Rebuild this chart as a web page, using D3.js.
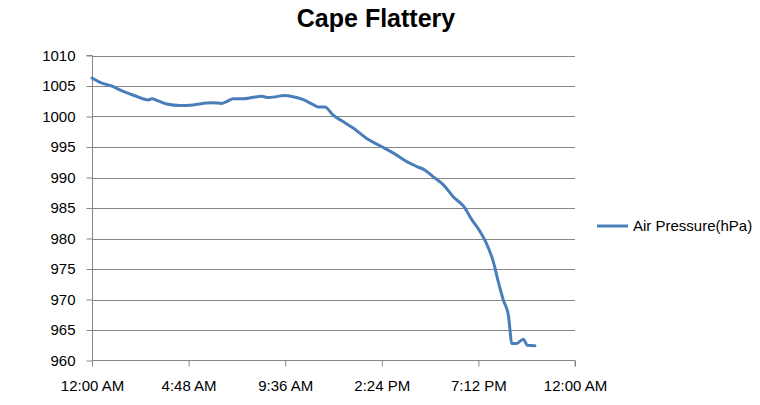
<!DOCTYPE html>
<html>
<head>
<meta charset="utf-8">
<script src="https://cdn.jsdelivr.net/npm/d3@7"></script>
<style>
  html, body { margin: 0; padding: 0; background: #fff; }
  svg { display: block; }
  text { font-family: "Liberation Sans", Arial, sans-serif; fill: #000; }
</style>
</head>
<body>
<svg id="chart" width="760" height="405"></svg>
<script>
const chartTitle = "Cape Flattery";
const seriesName = "Air Pressure(hPa)";
// time of reading, hours since 12:00 AM
const hours = [0, 0.4, 0.98, 1.55, 2.14, 2.8, 2.97, 3.29, 3.71, 4.37, 5.03, 5.7, 6.03, 6.44, 6.69, 7.02, 7.51, 8.01, 8.43, 8.76, 9.17, 9.51, 10.0, 10.5, 10.99, 11.24, 11.57, 11.99, 12.41, 12.98, 13.65, 14.31, 14.98, 15.64, 16.14, 16.55, 16.96, 17.46, 17.96, 18.46, 18.87, 19.29, 19.54, 19.94, 20.19, 20.44, 20.69, 20.77, 20.85, 21.1, 21.43, 21.63, 22.01];
// air pressure, hPa
const pressure = [1006.3, 1005.6, 1005.0, 1004.1, 1003.4, 1002.7, 1002.9, 1002.55, 1002.05, 1001.8, 1001.9, 1002.2, 1002.25, 1002.15, 1002.45, 1002.9, 1002.9, 1003.15, 1003.3, 1003.1, 1003.25, 1003.45, 1003.25, 1002.75, 1001.95, 1001.55, 1001.55, 1000.2, 999.3, 998.1, 996.4, 995.2, 994.0, 992.6, 991.8, 991.2, 990.1, 988.8, 986.8, 985.3, 983.1, 981.1, 979.6, 976.2, 972.9, 969.9, 967.4, 965.0, 962.8, 962.8, 963.5, 962.5, 962.4];
const xTickHours = [0, 4.8, 9.6, 14.4, 19.2, 24];
const xTickLabels = ["12:00 AM", "4:48 AM", "9:36 AM", "2:24 PM", "7:12 PM", "12:00 AM"];
const yTicks = [960, 965, 970, 975, 980, 985, 990, 995, 1000, 1005, 1010];

const data = hours.map((h, i) => ({ h, v: pressure[i] }));

const svg = d3.select("#chart");
const pL = 92, pR = 575, pT = 55.5, pB = 360.5;
const x = d3.scaleLinear().domain([0, 24]).range([pL, pR]);
const y = d3.scaleLinear().domain([960, 1010]).range([pB, pT]);
const gridColor = "#868686";
const lineColor = "#4a7ebb";
const labelFont = "Liberation Sans, Arial, sans-serif";

// gridlines
svg.append("g").selectAll("line").data(yTicks.slice(1)).join("line")
  .attr("x1", pL).attr("x2", pR)
  .attr("y1", d => Math.round(y(d)) + 0.5).attr("y2", d => Math.round(y(d)) + 0.5)
  .attr("stroke", gridColor).attr("stroke-width", 1);

// y axis
const yAxis = d3.axisLeft(y).tickValues(yTicks).tickSize(6).tickPadding(11).tickFormat(d3.format("d"));
const gy = svg.append("g").attr("transform", `translate(${pL + 0.5},0)`).call(yAxis);
gy.selectAll("line").attr("stroke", gridColor);
gy.select(".domain").attr("stroke", gridColor).attr("d", `M-6,${pT}H0V${pB}`);
gy.selectAll("text").attr("font-size", 15).attr("font-family", labelFont).attr("fill", "#000");

// x axis
const xAxis = d3.axisBottom(x).tickValues(xTickHours).tickSize(6).tickPadding(14)
  .tickFormat((d, i) => xTickLabels[i]);
const gx = svg.append("g").attr("transform", `translate(0,${pB})`).call(xAxis);
gx.selectAll("line").attr("stroke", gridColor);
gx.select(".domain").attr("stroke", gridColor).attr("d", `M${pL},0H${pR}V6`);
gx.selectAll("text").attr("font-size", 15).attr("font-family", labelFont).attr("fill", "#000");

// series line
const line = d3.line().x(d => x(d.h)).y(d => y(d.v)).curve(d3.curveMonotoneX);
svg.append("path").datum(data)
  .attr("d", line)
  .attr("fill", "none")
  .attr("stroke", lineColor)
  .attr("stroke-width", 3)
  .attr("stroke-linejoin", "round")
  .attr("stroke-linecap", "round");

// title
svg.append("text").attr("x", 376).attr("y", 27).attr("text-anchor", "middle")
  .attr("font-size", 25).attr("font-weight", "bold").text(chartTitle);

// legend
const lg = svg.append("g").attr("transform", "translate(597,226)");
lg.append("line").attr("x1", 0).attr("x2", 31).attr("y1", 0).attr("y2", 0)
  .attr("stroke", lineColor).attr("stroke-width", 3);
lg.append("text").attr("x", 36).attr("y", 5).attr("font-size", 15).text(seriesName);
</script>
</body>
</html>
